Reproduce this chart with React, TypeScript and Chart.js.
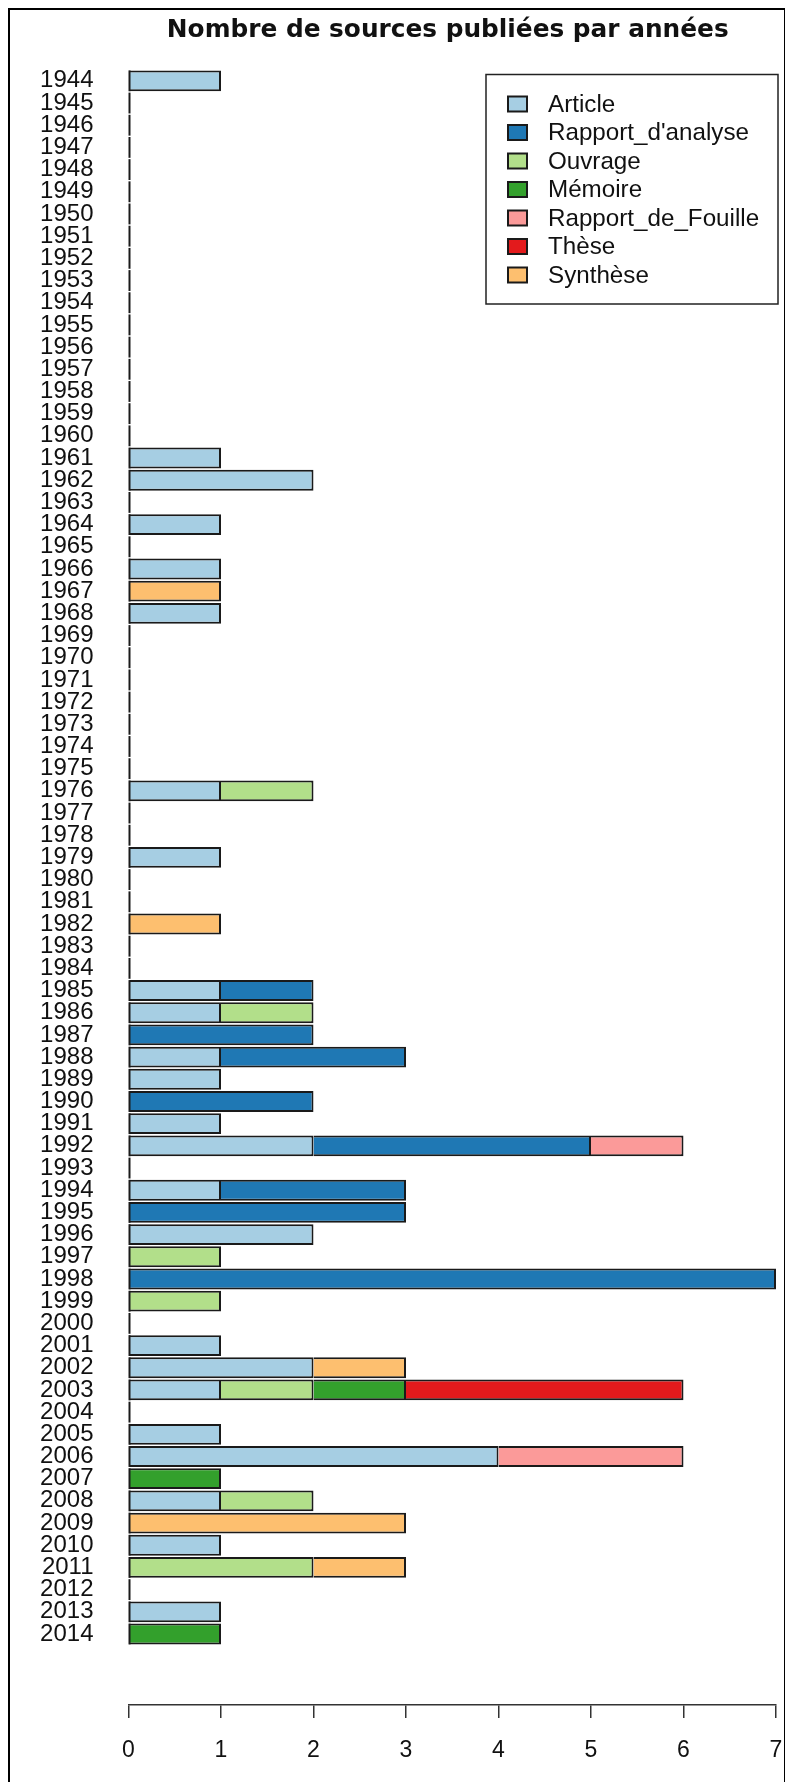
import React, { useEffect, useRef } from "react";
import { Chart, registerables } from "chart.js";

Chart.register(...registerables);

const TITLE = "Nombre de sources publiées par années";

const years = [
  "1944", "1945", "1946", "1947", "1948", "1949", "1950", "1951", "1952", "1953",
  "1954", "1955", "1956", "1957", "1958", "1959", "1960", "1961", "1962", "1963",
  "1964", "1965", "1966", "1967", "1968", "1969", "1970", "1971", "1972", "1973",
  "1974", "1975", "1976", "1977", "1978", "1979", "1980", "1981", "1982", "1983",
  "1984", "1985", "1986", "1987", "1988", "1989", "1990", "1991", "1992", "1993",
  "1994", "1995", "1996", "1997", "1998", "1999", "2000", "2001", "2002", "2003",
  "2004", "2005", "2006", "2007", "2008", "2009", "2010", "2011", "2012", "2013",
  "2014",
];

const article = [
  1, 0, 0, 0, 0, 0, 0, 0, 0, 0,
  0, 0, 0, 0, 0, 0, 0, 1, 2, 0,
  1, 0, 1, 0, 1, 0, 0, 0, 0, 0,
  0, 0, 1, 0, 0, 1, 0, 0, 0, 0,
  0, 1, 1, 0, 1, 1, 0, 1, 2, 0,
  1, 0, 2, 0, 0, 0, 0, 1, 2, 1,
  0, 1, 4, 0, 1, 0, 1, 0, 0, 1,
  0,
];

const rapportAnalyse = [
  0, 0, 0, 0, 0, 0, 0, 0, 0, 0,
  0, 0, 0, 0, 0, 0, 0, 0, 0, 0,
  0, 0, 0, 0, 0, 0, 0, 0, 0, 0,
  0, 0, 0, 0, 0, 0, 0, 0, 0, 0,
  0, 1, 0, 2, 2, 0, 2, 0, 3, 0,
  2, 3, 0, 0, 7, 0, 0, 0, 0, 0,
  0, 0, 0, 0, 0, 0, 0, 0, 0, 0,
  0,
];

const ouvrage = [
  0, 0, 0, 0, 0, 0, 0, 0, 0, 0,
  0, 0, 0, 0, 0, 0, 0, 0, 0, 0,
  0, 0, 0, 0, 0, 0, 0, 0, 0, 0,
  0, 0, 1, 0, 0, 0, 0, 0, 0, 0,
  0, 0, 1, 0, 0, 0, 0, 0, 0, 0,
  0, 0, 0, 1, 0, 1, 0, 0, 0, 1,
  0, 0, 0, 0, 1, 0, 0, 2, 0, 0,
  0,
];

const memoire = [
  0, 0, 0, 0, 0, 0, 0, 0, 0, 0,
  0, 0, 0, 0, 0, 0, 0, 0, 0, 0,
  0, 0, 0, 0, 0, 0, 0, 0, 0, 0,
  0, 0, 0, 0, 0, 0, 0, 0, 0, 0,
  0, 0, 0, 0, 0, 0, 0, 0, 0, 0,
  0, 0, 0, 0, 0, 0, 0, 0, 0, 1,
  0, 0, 0, 1, 0, 0, 0, 0, 0, 0,
  1,
];

const rapportFouille = [
  0, 0, 0, 0, 0, 0, 0, 0, 0, 0,
  0, 0, 0, 0, 0, 0, 0, 0, 0, 0,
  0, 0, 0, 0, 0, 0, 0, 0, 0, 0,
  0, 0, 0, 0, 0, 0, 0, 0, 0, 0,
  0, 0, 0, 0, 0, 0, 0, 0, 1, 0,
  0, 0, 0, 0, 0, 0, 0, 0, 0, 0,
  0, 0, 2, 0, 0, 0, 0, 0, 0, 0,
  0,
];

const these = [
  0, 0, 0, 0, 0, 0, 0, 0, 0, 0,
  0, 0, 0, 0, 0, 0, 0, 0, 0, 0,
  0, 0, 0, 0, 0, 0, 0, 0, 0, 0,
  0, 0, 0, 0, 0, 0, 0, 0, 0, 0,
  0, 0, 0, 0, 0, 0, 0, 0, 0, 0,
  0, 0, 0, 0, 0, 0, 0, 0, 0, 3,
  0, 0, 0, 0, 0, 0, 0, 0, 0, 0,
  0,
];

const synthese = [
  0, 0, 0, 0, 0, 0, 0, 0, 0, 0,
  0, 0, 0, 0, 0, 0, 0, 0, 0, 0,
  0, 0, 0, 1, 0, 0, 0, 0, 0, 0,
  0, 0, 0, 0, 0, 0, 0, 0, 1, 0,
  0, 0, 0, 0, 0, 0, 0, 0, 0, 0,
  0, 0, 0, 0, 0, 0, 0, 0, 1, 0,
  0, 0, 0, 0, 0, 3, 0, 1, 0, 0,
  0,
];

const seriesNames = [
  "Article",
  "Rapport_d'analyse",
  "Ouvrage",
  "Mémoire",
  "Rapport_de_Fouille",
  "Thèse",
  "Synthèse",
];
const seriesValues = [article, rapportAnalyse, ouvrage, memoire, rapportFouille, these, synthese];
const seriesColors = ["#A6CEE3", "#1F78B4", "#B2DF8A", "#33A02C", "#FB9A99", "#E31A1C", "#FDBF6F"];

const xTicks = [0, 1, 2, 3, 4, 5, 6, 7];

const SANS = "'Liberation Sans', Arial, sans-serif";
const EDGE = "#1a1a1a";

const zeroLinePlugin = {
  id: "zeroLines",
  afterDatasetsDraw(chart: any) {
    const ctx = chart.ctx;
    const x0 = chart.scales.x.getPixelForValue(0);
    const meta = chart.getDatasetMeta(0);
    ctx.save();
    ctx.strokeStyle = EDGE;
    ctx.lineWidth = 2;
    meta.data.forEach((el: any) => {
      const p = el.getProps(["y", "height"], true);
      ctx.beginPath();
      ctx.moveTo(x0 + 1, p.y - p.height / 2);
      ctx.lineTo(x0 + 1, p.y + p.height / 2);
      ctx.stroke();
    });
    ctx.restore();
  },
};

const titlePlugin = {
  id: "rTitle",
  afterDraw(chart: any) {
    const ctx = chart.ctx;
    const area = chart.chartArea;
    ctx.save();
    ctx.fillStyle = "#111";
    ctx.font = "bold 24.8px 'DejaVu Sans', sans-serif";
    ctx.textAlign = "center";
    ctx.textBaseline = "alphabetic";
    ctx.fillText(TITLE, (area.left + area.right) / 2 - 4.5, 27);
    ctx.restore();
  },
};

const legendPlugin = {
  id: "rLegend",
  afterDraw(chart: any) {
    const ctx = chart.ctx;
    const area = chart.chartArea;
    const right = area.right + 2;
    const left = right - 292;
    const top = 64.5;
    const bottom = 294;
    ctx.save();
    ctx.fillStyle = "#fff";
    ctx.fillRect(left, top, right - left, bottom - top);
    ctx.strokeStyle = "#222";
    ctx.lineWidth = 1.5;
    ctx.strokeRect(left, top, right - left, bottom - top);
    ctx.font = `24.2px ${SANS}`;
    ctx.textAlign = "left";
    ctx.textBaseline = "middle";
    chart.data.datasets.forEach((ds: any, i: number) => {
      const cy = 94 + i * 28.5;
      ctx.fillStyle = ds.backgroundColor;
      ctx.fillRect(left + 22, cy - 7.5, 19, 15);
      ctx.strokeStyle = EDGE;
      ctx.lineWidth = 2;
      ctx.strokeRect(left + 22, cy - 7.5, 19, 15);
      ctx.fillStyle = "#111";
      ctx.fillText(ds.label, left + 62, cy + 1);
    });
    ctx.restore();
  },
};

export default function App() {
  const ref = useRef<HTMLCanvasElement | null>(null);

  useEffect(() => {
    document.documentElement.style.overflow = "hidden";
    document.body.style.overflow = "hidden";
    const canvas = ref.current;
    if (!canvas) return;
    const chart = new Chart(canvas, {
      type: "bar",
      data: {
        datasets: seriesNames.map((name, s) => ({
          label: name,
          data: seriesValues[s].map((v, i) => ({ x: v, y: i })),
          backgroundColor: seriesColors[s],
          borderColor: EDGE,
          borderWidth: 2,
          borderSkipped: "start",
          categoryPercentage: 1,
          barPercentage: 0.94,
        })),
      },
      options: {
        indexAxis: "y",
        animation: false,
        responsive: false,
        devicePixelRatio: 1,
        layout: { padding: { left: 0, right: 8, top: 40, bottom: 0 } },
        plugins: {
          legend: { display: false },
          tooltip: { enabled: false },
          title: { display: false },
        },
        scales: {
          x: {
            type: "linear",
            position: "bottom",
            min: 0,
            max: 7,
            offset: false,
            stacked: true,
            afterBuildTicks: (s: any) => {
              s.ticks = xTicks.map((v) => ({ value: v }));
            },
            afterFit: (s: any) => {
              s.height = 77;
              s.paddingLeft = 0;
              s.paddingRight = 0;
            },
            ticks: {
              padding: 19,
              color: "#111",
              font: { family: SANS, size: 23 },
              callback: (v: any) => String(v),
            },
            grid: {
              drawOnChartArea: false,
              drawTicks: true,
              tickLength: 13,
              color: "#333",
              lineWidth: 1.5,
            },
            border: { display: true, color: "#333", width: 1.5 },
          },
          y: {
            type: "linear",
            reverse: true,
            offset: false,
            min: -1.39,
            max: 73.2,
            stacked: true,
            afterBuildTicks: (s: any) => {
              s.ticks = years.map((_, i) => ({ value: i }));
            },
            afterFit: (s: any) => {
              s.width = 118.5;
              s.paddingTop = 0;
              s.paddingBottom = 0;
            },
            ticks: {
              autoSkip: false,
              padding: 35,
              color: "#111",
              font: { family: SANS, size: 24 },
              callback: (v: any) => years[v as number] ?? "",
            },
            grid: { display: false, drawTicks: false, offset: false },
            border: { display: false },
          },
        },
      },
      plugins: [zeroLinePlugin, titlePlugin, legendPlugin],
    } as any);
    return () => chart.destroy();
  }, []);

  return (
    <div
      style={{
        width: 778,
        height: 1774,
        border: "2px solid #000",
        borderBottom: "none",
        boxSizing: "border-box",
        background: "#fff",
      }}
    >
      <canvas ref={ref} width={774} height={1772} style={{ display: "block" }} />
    </div>
  );
}
